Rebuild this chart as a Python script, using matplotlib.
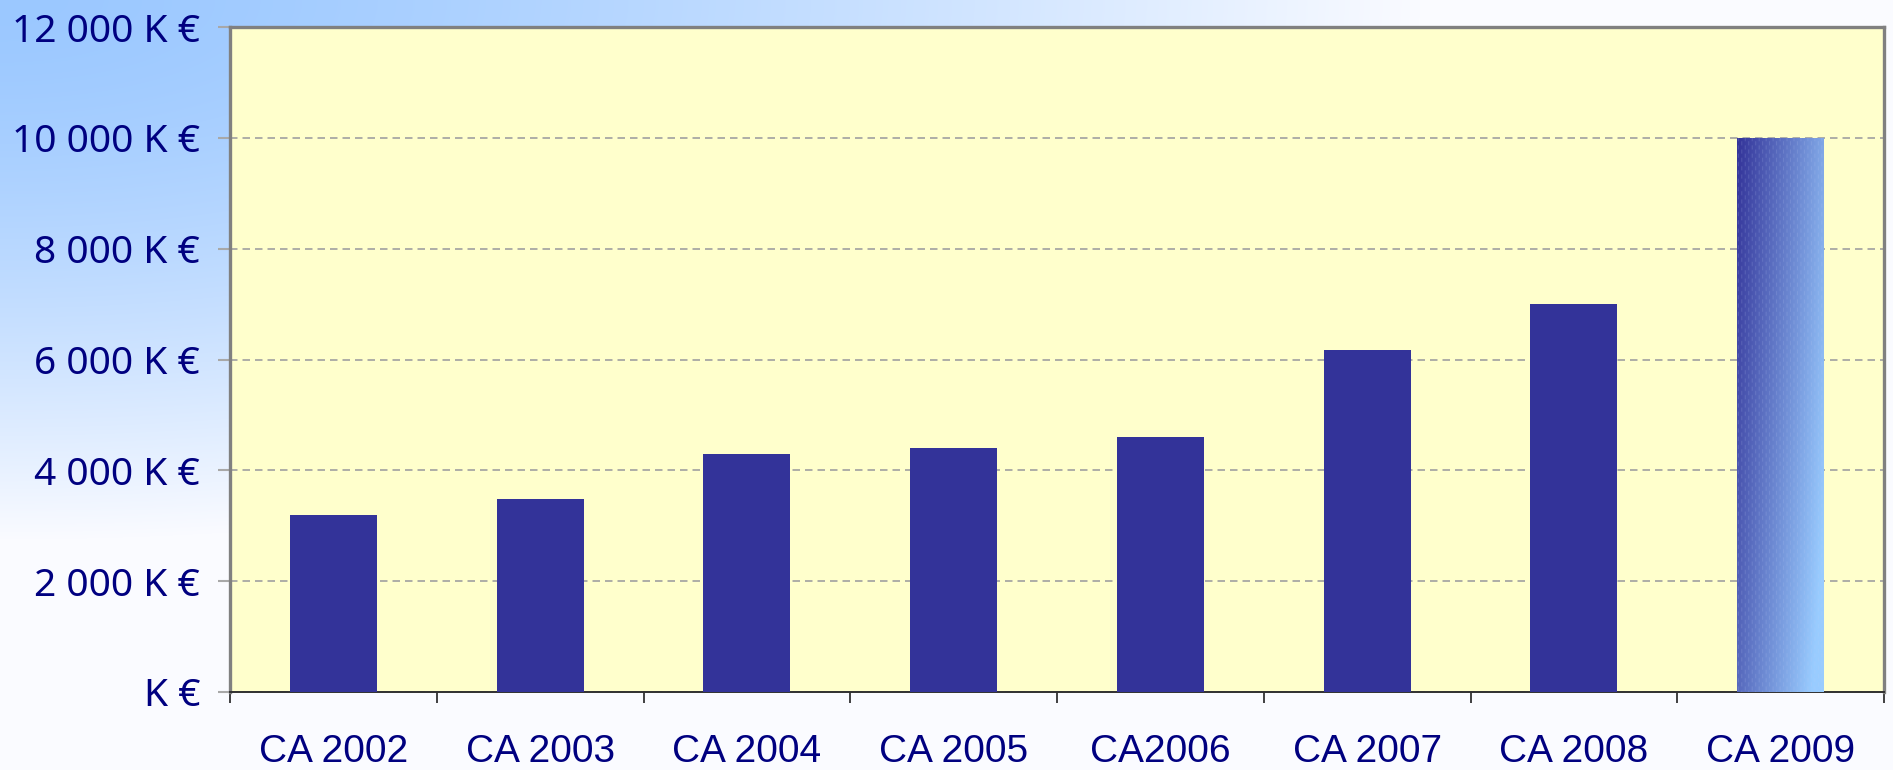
import numpy as np
import matplotlib
matplotlib.use("Agg")
import matplotlib.pyplot as plt
from matplotlib.patches import Rectangle

# ---- data ----
categories = ["CA 2002", "CA 2003", "CA 2004", "CA 2005", "CA2006", "CA 2007", "CA 2008", "CA 2009"]
values = [3200, 3480, 4290, 4410, 4610, 6180, 7000, 10000]
ytick_values = [0, 2000, 4000, 6000, 8000, 10000, 12000]
ytick_labels = ["K €", "2 000 K €", "4 000 K €", "6 000 K €", "8 000 K €", "10 000 K €", "12 000 K €"]

W, H, DPI = 1893, 770, 100
fig = plt.figure(figsize=(W / DPI, H / DPI), dpi=DPI)

# ---- background gradient (top-left blue to white) ----
bg_ax = fig.add_axes([0, 0, 1, 1], zorder=-10)
yy, xx = np.mgrid[0:H, 0:W]
t = np.sqrt((xx / (0.75 * W)) ** 2 + (yy / (0.70 * H)) ** 2)
t = np.clip(t, 0, 1) ** 1.5
c0 = np.array([155, 200, 255]) / 255.0
c1 = np.array([250, 251, 255]) / 255.0
img = c0[None, None, :] * (1 - t[..., None]) + c1[None, None, :] * t[..., None]
bg_ax.imshow(img, extent=[0, 1, 0, 1], aspect="auto", origin="upper")
bg_ax.set_axis_off()

# ---- main axes ----
left, right, top, bottom = 230, 1884, 27, 692
ax = fig.add_axes([left / W, 1 - bottom / H, (right - left) / W, (bottom - top) / H])
ax.set_facecolor("#FFFFCC")

x = np.arange(len(categories))
bar_w = 0.42
bars = ax.bar(x, values, width=bar_w, color="#333399", zorder=3)

# gradient fill for the last bar
last = bars[-1]
last.set_facecolor("none")
bx, by = last.get_x(), last.get_y()
bw, bh = last.get_width(), last.get_height()
gy, gx = np.mgrid[0:400, 0:100]
u = gx / 99.0
v = 1 - gy / 399.0  # 1 at top
tt = np.clip(0.75 * u + 0.35 * (1 - v), 0, 1)
d0 = np.array([51, 51, 153]) / 255.0
d1 = np.array([153, 204, 255]) / 255.0
gimg = d0[None, None, :] * (1 - tt[..., None]) + d1[None, None, :] * tt[..., None]
# faint light streak texture
streak = ((gx % 4 == 1) & ((gy + 3 * (gx // 4)) % 6 < 3))
gimg = np.where(streak[..., None], gimg * 0.8 + 0.2 * np.array([0.75, 0.8, 0.95]), gimg)
im = ax.imshow(gimg, extent=[bx, bx + bw, by, by + bh], aspect="auto",
               origin="upper", zorder=3, interpolation="bilinear")
clip = Rectangle((bx, by), bw, bh, transform=ax.transData)
im.set_clip_path(clip)

ax.set_xlim(-0.5, len(categories) - 0.5)
ax.set_ylim(0, 12000)

# grid
ax.set_yticks(ytick_values)
ax.set_yticklabels(ytick_labels)
ax.yaxis.grid(True, color="#A0A0A0", linestyle=(0, (4.5, 3)), linewidth=1.2, zorder=1)
ax.set_axisbelow(True)

# ticks
ax.set_xticks(x)
ax.set_xticklabels(categories)
ax.set_xticks(np.arange(-0.5, len(categories)), minor=True)
ax.tick_params(axis="x", which="major", length=0, pad=30,
               labelsize=28, labelcolor="#000080")
ax.tick_params(axis="x", which="minor", length=8, width=1.2, color="#202020",
               direction="out")
for lab in ax.get_xticklabels():
    lab.set_fontfamily("Liberation Sans")
ax.tick_params(axis="y", which="major", length=8.6, width=1.5, color="#A8A8A8",
               direction="out", pad=13, labelsize=28, labelcolor="#000080")
for lab in ax.get_yticklabels():
    lab.set_fontfamily("Noto Sans")

# spines
for s in ["left", "top", "right"]:
    ax.spines[s].set_color("#808080")
    ax.spines[s].set_linewidth(2.4)
ax.spines["bottom"].set_color("#303030")
ax.spines["bottom"].set_linewidth(1.4)

fig.savefig("out.png", dpi=DPI)
